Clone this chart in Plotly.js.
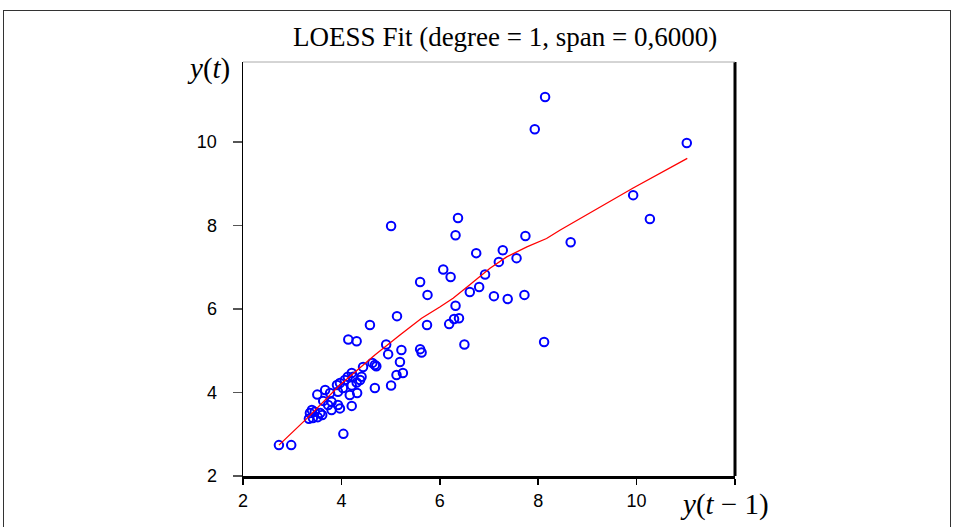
<!DOCTYPE html>
<html>
<head>
<meta charset="utf-8">
<script src="https://cdn.plot.ly/plotly-3.0.1.min.js"></script>
<style>
  html, body { margin: 0; padding: 0; background: #fff; }
  #frame { position: absolute; left: 3px; top: 10px; width: 948px; height: 530px; border: 1px solid #333; box-sizing: border-box; }
  #chart { position: absolute; left: 0; top: 0; width: 955px; height: 527px; }
</style>
</head>
<body>
<div id="frame"></div>
<div id="chart"></div>
<script>
// Scatter data: y(t-1) vs y(t)
const xLag = [2.73, 2.98, 4.04, 3.34, 3.42, 3.52, 3.61, 3.36, 3.46, 3.57,
  3.40, 3.80, 3.73, 3.93, 3.97, 4.21, 3.63, 3.80, 3.51, 3.67,
  3.77, 3.93, 4.03, 4.17, 4.32, 3.91, 3.97, 4.21, 4.07, 4.13,
  4.24, 4.21, 4.31, 4.38, 4.41, 4.68, 5.01, 5.12, 5.25, 4.44,
  4.63, 4.68, 4.71, 5.19, 4.95, 4.91, 5.22, 5.60, 5.63, 4.14,
  4.31, 4.58, 5.13, 5.74, 6.19, 6.29, 6.39, 6.32, 6.50, 8.12,
  5.75, 5.60, 6.07, 6.22, 6.61, 6.80, 6.92, 7.10, 7.38, 7.72,
  7.20, 7.28, 6.74, 7.56, 6.32, 7.74, 6.37, 5.01, 8.66, 8.14,
  7.93, 11.02, 9.93, 10.27];
const yCur = [2.74, 2.74, 3.01, 3.37, 3.39, 3.41, 3.46, 3.51, 3.54, 3.51,
  3.58, 3.58, 3.70, 3.70, 3.62, 3.68, 3.80, 3.78, 3.95, 4.06,
  3.99, 4.02, 4.11, 3.94, 3.99, 4.18, 4.23, 4.17, 4.30, 4.38,
  4.38, 4.47, 4.24, 4.30, 4.38, 4.11, 4.17, 4.42, 4.47, 4.61,
  4.71, 4.66, 4.63, 4.73, 4.92, 5.15, 5.02, 5.04, 4.96, 5.27,
  5.23, 5.62, 5.83, 5.62, 5.64, 5.76, 5.78, 6.08, 5.15, 5.21,
  6.34, 6.65, 6.95, 6.77, 6.41, 6.53, 6.83, 6.31, 6.24, 6.34,
  7.13, 7.41, 7.34, 7.22, 7.77, 7.75, 8.18, 7.99, 7.60, 11.08,
  10.31, 9.98, 8.73, 8.16];

// LOESS fitted curve
const fitX = [2.73, 3.30, 3.97, 4.68, 5.19, 5.63, 6.00, 6.27, 6.61, 7.02, 7.36, 7.77, 8.17, 8.44, 9.93, 11.03];
const fitY = [2.74, 3.38, 4.18, 4.90, 5.38, 5.78, 6.05, 6.26, 6.58, 6.98, 7.25, 7.49, 7.69, 7.89, 8.90, 9.61];

const xTicks = [2, 4, 6, 8, 10, 12];
const xTickText = ["2", "4", "6", "8", "10", ""];
const yTicks = [2, 4, 6, 8, 10];
const yTickText = ["2", "4", "6", "8", "10"];

const traces = [
  {
    x: xLag, y: yCur, type: 'scatter', mode: 'markers',
    marker: { symbol: 'circle-open', size: 8.5, color: '#0000FF', line: { width: 2, color: '#0000FF' } },
    hoverinfo: 'x+y'
  },
  {
    x: fitX, y: fitY, type: 'scatter', mode: 'lines',
    line: { color: '#FF0000', width: 1.3 },
    hoverinfo: 'skip'
  }
];

const layout = {
  width: 955, height: 527,
  margin: { l: 243, r: 220, t: 62, b: 51, pad: 0 },
  paper_bgcolor: 'rgba(0,0,0,0)',
  plot_bgcolor: '#ffffff',
  showlegend: false,
  title: {
    text: 'LOESS Fit (degree = 1, span = 0,6000)',
    font: { family: 'Liberation Serif, Times New Roman, serif', size: 27, color: '#000' },
    x: 0.529, xanchor: 'center', y: 0.93, yanchor: 'middle'
  },
  xaxis: {
    range: [2, 12], showgrid: false, zeroline: false,
    showline: true, linecolor: '#000', linewidth: 3,
    ticks: 'outside', ticklen: 6, tickwidth: 1.5, tickcolor: '#000',
    tickvals: xTicks, ticktext: xTickText,
    tickfont: { family: 'Liberation Sans, Arial, sans-serif', size: 18, color: '#000' }
  },
  yaxis: {
    range: [2, 11.92], showgrid: false, zeroline: false,
    showline: true, linecolor: '#000', linewidth: 1.5,
    ticks: 'outside', ticklen: 9, tickwidth: 1.5, tickcolor: '#555',
    ticklabelstandoff: 12,
    tickvals: yTicks, ticktext: yTickText,
    tickfont: { family: 'Liberation Sans, Arial, sans-serif', size: 18, color: '#000' }
  },
  shapes: [
    { type: 'line', xref: 'paper', yref: 'paper', x0: 1, x1: 1, y0: 0, y1: 1, line: { color: '#000', width: 3 } },
    { type: 'line', xref: 'paper', yref: 'paper', x0: 0, x1: 1, y0: 1, y1: 1, line: { color: '#aaa', width: 1 } }
  ],
  annotations: [
    { text: '<i>y</i>(<i>t</i>)', xref: 'paper', yref: 'paper', x: -0.022, y: 0.985, xanchor: 'right', yanchor: 'middle',
      showarrow: false, font: { family: 'Liberation Serif, Times New Roman, serif', size: 29, color: '#000' } },
    { text: '<i>y</i>(<i>t</i> \u2212 1)', xref: 'paper', yref: 'paper', x: 0.978, y: -0.07, xanchor: 'center', yanchor: 'middle',
      showarrow: false, font: { family: 'Liberation Serif, Times New Roman, serif', size: 29, color: '#000' } }
  ]
};

Plotly.newPlot('chart', traces, layout, { displayModeBar: false, staticPlot: true });
</script>
</body>
</html>
